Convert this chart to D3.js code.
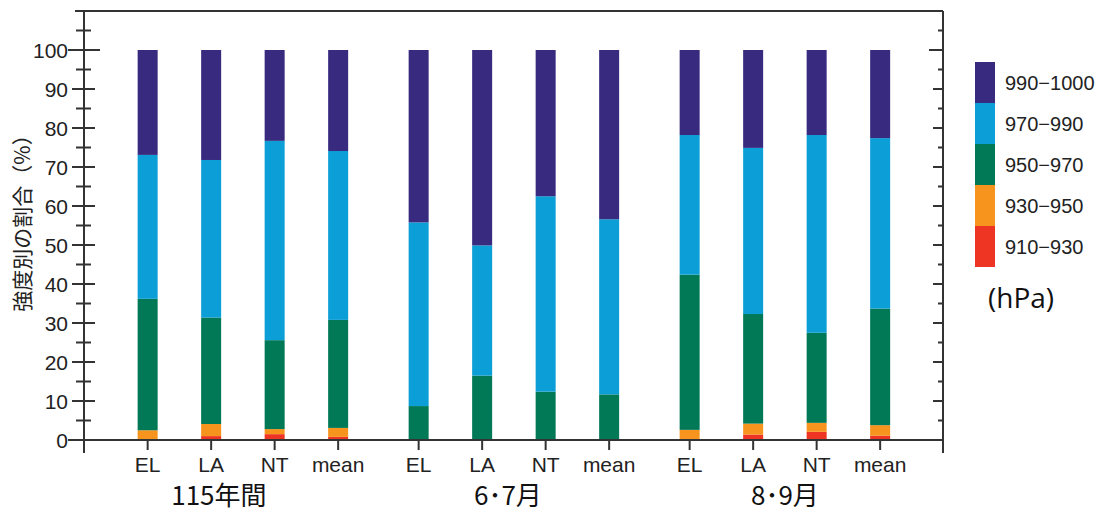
<!DOCTYPE html>
<html><head><meta charset="utf-8">
<script src="https://cdn.jsdelivr.net/npm/d3@7"></script>
<style>
html,body{margin:0;padding:0;background:#fff;}
svg{display:block;}
</style></head>
<body>
<svg id="chart" width="1115" height="512"></svg>
<script>
// ---- data ----
const groups = ["115年間", "6･7月", "8･9月"];
const categories = ["EL", "LA", "NT", "mean"];
const seriesNames = ["910−930", "930−950", "950−970", "970−990", "990−1000"];
// values per group, per category (order of categories), in %
const s910_930 = [[0.0, 1.0, 1.5, 0.8], [0, 0, 0, 0], [0.0, 1.4, 2.1, 1.1]];
const s930_950 = [[2.5, 3.1, 1.3, 2.3], [0, 0, 0, 0], [2.6, 2.8, 2.3, 2.7]];
const s950_970 = [[33.7, 27.3, 22.8, 27.7], [8.7, 16.5, 12.4, 11.7], [39.8, 28.1, 23.1, 29.9]];
const s970_990 = [[36.9, 40.4, 51.1, 43.3], [47.1, 33.4, 50.1, 44.9], [35.8, 42.6, 50.7, 43.7]];
const s990_1000 = [[26.9, 28.2, 23.3, 25.9], [44.2, 50.1, 37.5, 43.4], [21.8, 25.1, 21.8, 22.6]];
const yTicks = [0, 10, 20, 30, 40, 50, 60, 70, 80, 90, 100];

const seriesData = [s910_930, s930_950, s950_970, s970_990, s990_1000];
const colors = ["#ee3524", "#f7941d", "#017856", "#0b9ed7", "#372a7f"];

// ---- build table ----
const rows = [];
groups.forEach((g, gi) => {
  categories.forEach((c, ci) => {
    const r = { group: g, cat: c, key: g + "|" + c };
    seriesNames.forEach((s, si) => r[s] = seriesData[si][gi][ci]);
    rows.push(r);
  });
});

const svg = d3.select("#chart");
const axisColor = "#333";

const y = d3.scaleLinear().domain([0, 100]).range([440, 50]);
const xGroup = d3.scaleBand().domain(groups).range([107.4, 920.4]);
const xCat = d3.scalePoint().domain(categories).range([40.25, 230.75]);
const cx = d => xGroup(d.group) + xCat(d.cat);
const barW = 20;
const xLeft = 84, xRight = 943, yTop = y(110), yBottomExt = 453;

// ---- bars ----
const stack = d3.stack().keys(seriesNames)(rows);
svg.append("g").selectAll("g").data(stack).join("g")
  .attr("fill", (d, i) => colors[i])
  .selectAll("rect").data(d => d).join("rect")
  .attr("x", d => cx(d.data) - barW / 2)
  .attr("width", barW)
  .attr("y", d => y(d[1]))
  .attr("height", d => Math.max(0, y(d[0]) - y(d[1])));

// ---- frame / axes ----
const ax = svg.append("g").attr("stroke", axisColor).attr("stroke-width", 2).attr("fill", "none");
ax.append("line").attr("x1", xLeft).attr("x2", xLeft).attr("y1", yTop).attr("y2", yBottomExt);
ax.append("line").attr("x1", xRight).attr("x2", xRight).attr("y1", yTop).attr("y2", yBottomExt);
ax.append("line").attr("x1", 75).attr("x2", xRight).attr("y1", yTop).attr("y2", yTop);
ax.append("line").attr("x1", xLeft).attr("x2", xRight).attr("y1", y(0)).attr("y2", y(0));

const majors = d3.range(0, 101, 10);
const minors = d3.range(5, 106, 10);
// left ticks
ax.selectAll(".lmaj").data(majors).join("line")
  .attr("x1", v => v === 100 || v === 0 ? 68 : 72)
  .attr("x2", v => v === 100 ? 100 : (v === 0 ? xLeft : 95))
  .attr("y1", v => y(v)).attr("y2", v => y(v));
ax.selectAll(".lmin").data(minors).join("line")
  .attr("x1", 76).attr("x2", 91)
  .attr("y1", v => y(v)).attr("y2", v => y(v));
// right ticks
ax.selectAll(".rmaj").data(majors.filter(v => v > 0)).join("line")
  .attr("x1", v => v === 100 ? xRight - 14 : xRight - 10).attr("x2", xRight)
  .attr("y1", v => y(v)).attr("y2", v => y(v));
ax.selectAll(".rmin").data(minors).join("line")
  .attr("x1", xRight - 5).attr("x2", xRight)
  .attr("y1", v => y(v)).attr("y2", v => y(v));
// x ticks
ax.selectAll(".xt").data(rows).join("line")
  .attr("x1", cx).attr("x2", cx)
  .attr("y1", y(0)).attr("y2", y(0) + 10);

// y tick labels
svg.append("g").selectAll("text").data(yTicks).join("text")
  .attr("x", 68).attr("y", v => y(v))
  .attr("text-anchor", "end").attr("dominant-baseline", "central")
  .attr("font-family", "'Liberation Sans', Arial, sans-serif")
  .attr("font-size", 21).attr("fill", "#222")
  .text(v => v);

// category labels
svg.append("g").selectAll("text").data(rows).join("text")
  .attr("x", cx).attr("y", 472)
  .attr("text-anchor", "middle")
  .attr("font-family", "'Liberation Sans', Arial, sans-serif")
  .attr("font-size", 21).attr("fill", "#222")
  .text(d => d.cat);

// group labels
const groupDx = [-24, -6, 0];
svg.append("g").selectAll("text").data(groups).join("text")
  .attr("x", (g, i) => xGroup(g) + xGroup.bandwidth() / 2 + groupDx[i]).attr("y", 505)
  .attr("text-anchor", "middle")
  .attr("font-family", "'Noto Sans CJK JP', sans-serif")
  .attr("font-size", 26).attr("fill", "#111")
  .text(g => g);

// y axis title
svg.append("text")
  .attr("transform", "translate(21,218) rotate(-90)")
  .attr("text-anchor", "middle").attr("dominant-baseline", "central")
  .attr("font-family", "'Noto Sans CJK JP', sans-serif")
  .attr("font-size", 21).attr("fill", "#222")
  .text("強度別の割合（%）");

// legend
const legendOrder = seriesNames.map((s, i) => ({ s, c: colors[i] })).reverse();
const lg = svg.append("g");
lg.selectAll("rect").data(legendOrder).join("rect")
  .attr("x", 975).attr("y", (d, i) => 62 + i * 41)
  .attr("width", 20).attr("height", 41)
  .attr("fill", d => d.c);
lg.selectAll("text").data(legendOrder).join("text")
  .attr("x", 1005).attr("y", (d, i) => 62 + i * 41 + 20.5)
  .attr("dominant-baseline", "central")
  .attr("font-family", "'Liberation Sans', Arial, sans-serif")
  .attr("font-size", 20).attr("fill", "#222")
  .text(d => d.s);
lg.append("text").attr("x", 988).attr("y", 297)
  .attr("dominant-baseline", "central")
  .attr("font-family", "'Open Sans', 'Noto Sans', sans-serif")
  .attr("font-size", 28).attr("fill", "#111")
  .text("(hPa)");
</script>
</body></html>
